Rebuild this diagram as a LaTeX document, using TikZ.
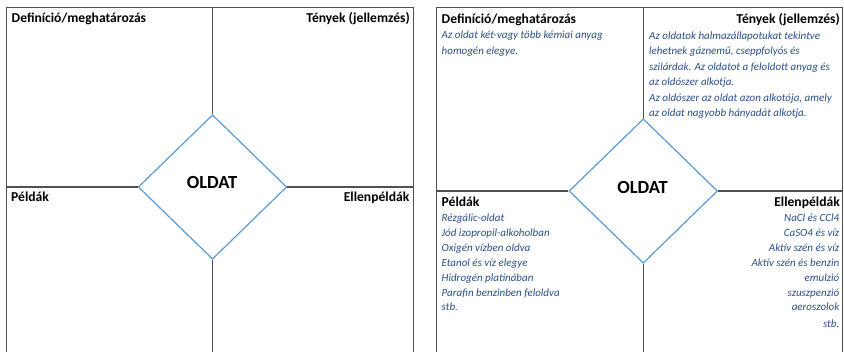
\documentclass[tikz,border=0pt]{standalone}
\usepackage{fontspec}
\setmainfont{Carlito}
\usetikzlibrary{shapes.geometric}

\definecolor{framegray}{RGB}{80,80,80}
\definecolor{diamondblue}{RGB}{91,155,213}
\definecolor{notetext}{RGB}{42,78,135}

\tikzset{
  frameline/.style={draw=framegray, line width=1.2pt},
  rhomb/.style={diamond, draw=diamondblue, line width=1.2pt, fill=white,
                inner sep=0pt, minimum width=148.5pt, minimum height=144.5pt},
  head/.style={font=\fontsize{13.6}{15}\selectfont\bfseries, inner sep=0pt},
  title/.style={font=\fontsize{18.5}{20}\selectfont\bfseries, inner sep=0pt},
  note/.style={font=\fontsize{11}{13}\selectfont\itshape, text=notetext, inner sep=0pt},
}

\begin{document}
\begin{tikzpicture}[x=1pt, y=-1pt]
  \useasboundingbox (0,0) rectangle (844,351);

  % ---------- blank template (left) ----------
  \coordinate (Lbl) at (6.5,352);
  \coordinate (Ltl) at (6.5,7.5);
  \coordinate (Ltr) at (413.3,7.5);
  \coordinate (Lbr) at (413.3,352);
  \coordinate (Ltop) at (212.5,7.5);
  \coordinate (Lbot) at (212.5,352);
  \coordinate (Lwest) at (6.5,187);
  \coordinate (Least) at (413.3,187);
  \draw[frameline] (Lbl) -- (Ltl) -- (Ltr) -- (Lbr);
  \node[rhomb] (Ld) at (212.5,187) {};
  \draw[frameline] (Ltop) -- (Ld.north);
  \draw[frameline] (Ld.south) -- (Lbot);
  \draw[frameline] (Lwest) -- (Ld.west);
  \draw[frameline] (Ld.east) -- (Least);
  \node[title] (Lt) at (212,182.5) {OLDAT};
  \node[head, anchor=base west] (Ldef) at (11.5,22.5) {Definíció/meghatározás};
  \node[head, anchor=base east] (Lfact) at (410,22.5) {Tények (jellemzés)};
  \node[head, anchor=base west] (Lex) at (11,201) {Példák};
  \node[head, anchor=base east] (Lcex) at (409.5,201) {Ellenpéldák};

  % ---------- filled-in frame (right) ----------
  \coordinate (Rbl) at (436.5,352);
  \coordinate (Rtl) at (436.5,7.5);
  \coordinate (Rtr) at (842.5,7.5);
  \coordinate (Rbr) at (842.5,352);
  \coordinate (Rtop) at (643.3,7.5);
  \coordinate (Rbot) at (643.3,352);
  \coordinate (Rwest) at (436.5,191);
  \coordinate (Reast) at (842.5,191);
  \draw[frameline] (Rbl) -- (Rtl) -- (Rtr) -- (Rbr);
  \node[rhomb] (Rd) at (643.3,191) {};
  \draw[frameline] (Rtop) -- (Rd.north);
  \draw[frameline] (Rd.south) -- (Rbot);
  \draw[frameline] (Rwest) -- (Rd.west);
  \draw[frameline] (Rd.east) -- (Reast);
  \node[title] (Rt) at (642.5,187) {OLDAT};
  \node[head, anchor=base west] (Rdef) at (441.5,23) {Definíció/meghatározás};
  \node[head, anchor=base east] (Rfact) at (840,23) {Tények (jellemzés)};
  \node[head, anchor=base west] (Rex) at (441.5,206.5) {Példák};
  \node[head, anchor=base east] (Rcex) at (840,206.5) {Ellenpéldák};

  % definition text
  \foreach \txt [count=\k from 0] in
    {Az oldat két-vagy több kémiai anyag, homogén elegye.}
    \node[note, anchor=base west] (def\k) at (441.5,{38.5+15.5*\k}) {\txt};

  % facts text
  \foreach \txt [count=\k from 0] in
    {Az oldatok halmazállapotukat tekintve,
     {lehetnek gáznemű, cseppfolyós és},
     szilárdak. Az oldatot a feloldott anyag és,
     az oldószer alkotja.,
     {Az oldószer az oldat azon alkotója, amely},
     az oldat nagyobb hányadát alkotja.}
    \node[note, anchor=base west] (fact\k) at (649,{39+15.5*\k}) {\txt};

  % examples
  \foreach \txt [count=\k from 0] in
    {Rézgálic-oldat, Jód izopropil-alkoholban, Oxigén vízben oldva,
     Etanol és víz elegye, Hidrogén platinában, Parafin benzinben feloldva, stb.}
    \node[note, anchor=base west] (ex\k) at (441.5,{221.5+14.9*\k}) {\txt};

  % counter-examples
  \foreach \txt [count=\k from 0] in
    {NaCl és CCl4, CaSO4 és víz, Aktív szén és víz, Aktív szén és benzin,
     emulzió, szuszpenzió, aeroszolok}
    \node[note, anchor=base east] (cex\k) at (839.5,{221.5+14.9*\k}) {\txt};
  \node[note, anchor=base east] (cex7) at (839.5,327.5) {stb.};
\end{tikzpicture}
\end{document}
